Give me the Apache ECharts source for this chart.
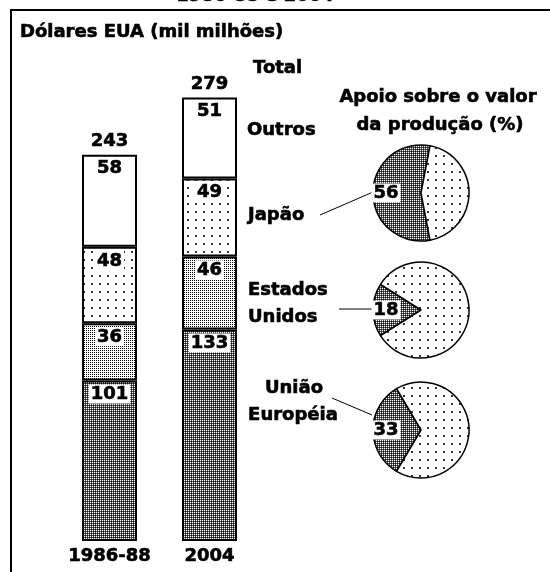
<!DOCTYPE html>
<html><head><meta charset="utf-8">
<script src="https://cdn.jsdelivr.net/npm/echarts@6/dist/echarts.min.js"></script>
<style>html,body{margin:0;padding:0;background:#fff}#c{width:550px;height:572px}</style>
</head><body><div id="c"></div>
<script>
// ---- data ----
const categories = ['1986-88', '2004'];
const euValues = [101, 133];      // União Européia
const usValues = [36, 46];        // Estados Unidos
const japanValues = [48, 49];     // Japão
const otherValues = [58, 51];     // Outros
const totals = [243, 279];        // Total
const pieRegions = ['Japão', 'Estados Unidos', 'União Européia'];
const supportPct = [56, 18, 33];  // Apoio sobre o valor da produção (%)

// ---- patterns ----
function makePattern(size, draw) {
  const c = document.createElement('canvas');
  c.width = size; c.height = size;
  const ctx = c.getContext('2d');
  ctx.fillStyle = '#fff'; ctx.fillRect(0, 0, size, size);
  draw(ctx);
  return { image: c, repeat: 'repeat' };
}
const checker = () => makePattern(2, ctx => {
  ctx.fillStyle = '#555'; ctx.fillRect(1,0,1,1); ctx.fillRect(0,1,1,1);
  ctx.fillStyle = '#111'; ctx.fillRect(1,1,1,1);
});
const grid2 = () => makePattern(2, ctx => { ctx.fillStyle = '#000'; ctx.fillRect(0,0,1,1); });
const dots = () => makePattern(8, ctx => { ctx.fillStyle = '#333'; ctx.fillRect(3,3,2,2); });

const FONT = '"DejaVu Sans", sans-serif';
const heavy = { textBorderColor: '#000', textBorderWidth: 0.6 };
const segLabel = Object.assign({
  show: true, position: 'insideTop', distance: 4,
  fontFamily: FONT, fontWeight: 'bold', fontSize: 18, color: '#000',
  backgroundColor: '#fff', padding: [1, 2, 0, 2]
}, heavy);
function barSeries(name, values, color) {
  return {
    type: 'bar', name, stack: 'total', data: values, barWidth: 55,
    itemStyle: { color, borderColor: '#000', borderWidth: 2 },
    label: segLabel
  };
}

const pieCentersY = [193, 310, 430];
const pieSeries = supportPct.map((v, i) => ({
  type: 'pie', center: [421, pieCentersY[i]], radius: 48,
  startAngle: 180 + v * 1.8, clockwise: true,
  avoidLabelOverlap: false, minAngle: 0,
  itemStyle: { borderColor: '#000', borderWidth: 1.5 },
  label: Object.assign({
    show: true, position: 'inside', formatter: '{c}', offset: [-8, 0],
    fontFamily: FONT, fontWeight: 'bold', fontSize: 18, color: '#000',
    backgroundColor: '#fff', padding: [1, 2, 0, 2]
  }, heavy),
  labelLine: { show: false },
  data: [
    { name: pieRegions[i], value: v, itemStyle: { color: checker() } },
    { name: 'resto', value: 100 - v, itemStyle: { color: dots() }, label: { show: false } }
  ]
}));

function txt(text, x, y, align) {
  return { type: 'text', x, y, style: { text, font: 'bold 18px ' + FONT, fill: '#000',
    stroke: '#000', lineWidth: 0.6,
    textAlign: align || 'left', textVerticalAlign: 'middle' } };
}
function line(x1, y1, x2, y2) {
  return { type: 'line', shape: { x1, y1, x2, y2 }, style: { stroke: '#000', lineWidth: 1 } };
}

const chart = echarts.init(document.getElementById('c'));
chart.setOption({
  animation: false,
  backgroundColor: '#fff',
  grid: { left: 59.5, width: 200, top: 64, bottom: 31 },
  xAxis: {
    type: 'category', data: categories,
    axisLine: { show: false }, axisTick: { show: false },
    axisLabel: Object.assign({ interval: 0, margin: 6, fontFamily: FONT, fontWeight: 'bold', fontSize: 18, color: '#000' }, heavy)
  },
  yAxis: { type: 'value', min: 0, max: 300, show: false },
  series: [
    barSeries('União Européia', euValues, checker()),
    barSeries('Estados Unidos', usValues, grid2()),
    barSeries('Japão', japanValues, dots()),
    barSeries('Outros', otherValues, '#fff'),
    {
      type: 'scatter', name: 'Total', data: totals, symbolSize: 0,
      itemStyle: { color: '#000', opacity: 1 },
      label: Object.assign({ show: true, position: 'top', distance: 4, fontFamily: FONT, fontWeight: 'bold', fontSize: 18, color: '#000' }, heavy)
    },
    ...pieSeries
  ],
  graphic: [
    txt('1986-88 e 2004', 255, -4, 'center'),
    { type: 'rect', shape: { x: 0, y: 4, width: 550, height: 5 }, style: { fill: '#fff' } },
    { type: 'polyline', shape: { points: [[11, 572], [11, 10], [550, 10]] }, style: { stroke: '#000', lineWidth: 2, fill: null } },
    txt('Dólares EUA (mil milhões)', 20, 32),
    txt('Total', 253, 68),
    txt('Outros', 247, 130),
    txt('Japão', 248, 215),
    txt('Estados', 248, 290),
    txt('Unidos', 248, 317),
    txt('União', 294, 388, 'center'),
    txt('Européia', 293, 415, 'center'),
    txt('Apoio sobre o valor', 438, 97, 'center'),
    txt('da produção (%)', 440, 125, 'center'),
    line(320, 215, 373, 192),
    line(339, 309, 372, 309),
    line(332, 398, 372, 415)
  ]
});
</script>
</body></html>
